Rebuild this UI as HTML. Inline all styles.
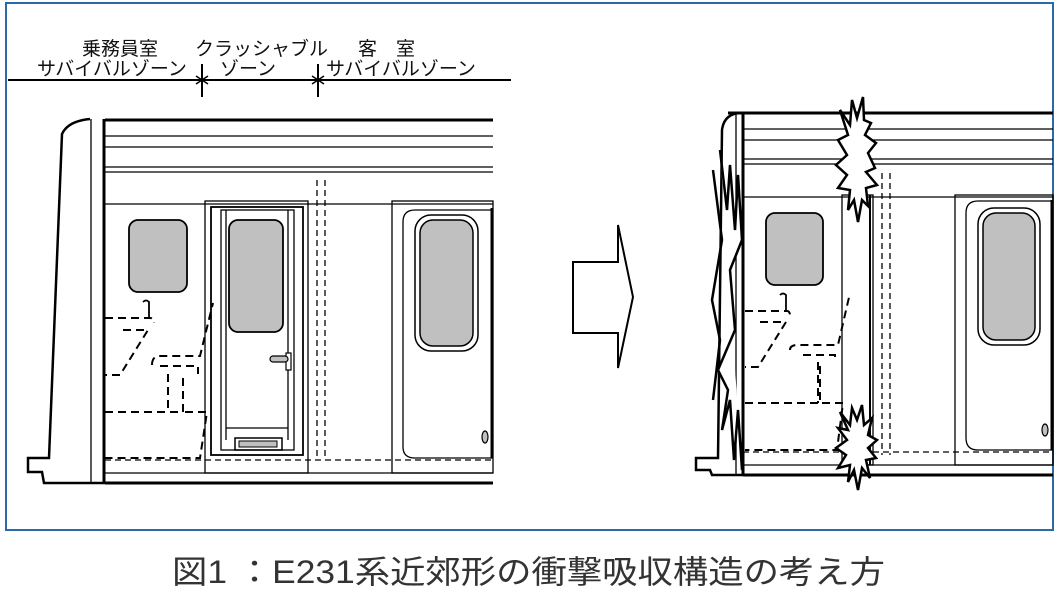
<!DOCTYPE html>
<html><head><meta charset="utf-8"><style>
html,body{margin:0;padding:0;background:#fff;width:1061px;height:605px;overflow:hidden}
svg{display:block}
</style></head><body>
<svg width="1061" height="605" viewBox="0 0 1061 605" xmlns="http://www.w3.org/2000/svg" font-family="'Liberation Sans','Noto Sans CJK JP',sans-serif">
<rect x="6" y="3" width="1047" height="527" fill="none" stroke="#2a6aa8" stroke-width="2"/>
<g font-size="19" fill="#111">
<text x="82" y="55">乗務員室</text>
<text x="37" y="75">サバイバルゾーン</text>
<text x="195" y="55">クラッシャブル</text>
<text x="220" y="75">ゾーン</text>
<text x="358" y="55">客</text><text x="396" y="55">室</text>
<text x="326" y="75">サバイバルゾーン</text>
</g>
<g stroke="#000" fill="none">
<line x1="8" y1="80" x2="511" y2="80" stroke-width="2"/>
<line x1="202" y1="64" x2="202" y2="97" stroke-width="2"/>
<line x1="318" y1="64" x2="318" y2="97" stroke-width="2"/>
<path d="M196 76 L208 84 M196 84 L208 76 M312 76 L324 84 M312 84 L324 76" stroke-width="1.5"/>
</g>
<g stroke="#000" fill="none">
<path d="M105 120 H493" stroke-width="3"/>
<path d="M105 136 H493 M105 147 H493 M105 167 H493 M105 172 H493 M105 204 H493 M105 473 H493" stroke-width="1.2"/>
<path d="M105 483 H493" stroke-width="3"/>
<path d="M90 119 Q68 121 62 134 L49 458 L28 458 L28 472 L42 472 L44 483 L105 483" stroke-width="2.5"/>
<line x1="91" y1="119" x2="91" y2="483" stroke-width="1.3"/>
<line x1="104" y1="119" x2="104" y2="483" stroke-width="3"/>
<rect x="129" y="220" width="58" height="72" rx="9" fill="#c0c0c0" stroke-width="1.8"/>
<rect x="205" y="201" width="103" height="272" stroke-width="1.3"/>
<rect x="211" y="207" width="92" height="248" stroke-width="1.8"/>
<rect x="221" y="210" width="73" height="240" stroke-width="1.3"/>
<line x1="226" y1="210" x2="226" y2="440" stroke-width="1.3"/>
<line x1="288" y1="210" x2="288" y2="440" stroke-width="1.3"/>
<line x1="226" y1="428" x2="288" y2="428" stroke-width="1.3"/>
<rect x="229" y="220" width="54" height="112" rx="9" fill="#c0c0c0" stroke-width="1.8"/>
<rect x="286" y="353" width="5" height="17" fill="#fff" stroke-width="1.2"/>
<rect x="270" y="356" width="18" height="6" rx="3" fill="#c0c0c0" stroke-width="1.2"/>
<rect x="235" y="438" width="47" height="12" stroke-width="1.5"/>
<rect x="239" y="441" width="38" height="6" fill="#c0c0c0" stroke-width="1"/>
<path d="M317 180 V460 M325 180 V460" stroke-width="1.3" stroke-dasharray="6,4"/>
<path d="M105 460 H493" stroke-width="1.3" stroke-dasharray="6,4"/>
<rect x="392" y="201" width="101" height="272" stroke-width="1.3"/>
<path d="M493 210 H415 Q403 210 403 222 V447 Q403 458 415 458 H493" stroke-width="1.3"/>
<line x1="492" y1="208" x2="492" y2="458" stroke-width="3"/>
<rect x="415" y="215" width="63" height="136" rx="16" fill="#fff" stroke-width="1.5"/>
<rect x="420" y="220" width="53" height="126" rx="13" fill="#c0c0c0" stroke-width="1.5"/>
<ellipse cx="485" cy="437" rx="3" ry="6" fill="#c0c0c0" stroke-width="1.2"/>
<g stroke-width="2" stroke-dasharray="8,5">
<path d="M105 318 H150 Q154 318 154 323"/>
<path d="M123 330 H148 L120 375 H105"/>
<path d="M105 412 H183 V375"/>
<path d="M152 365 Q152 356 160 356 H200 L213 303"/>
<path d="M160 366 H198 V374 M168 374 V412 M185 412 H207 L200 458 H105"/>
</g>
<path d="M143 302 Q146 299 149 302 V318" stroke-width="1.8"/>
</g>
<path d="M573 262 H618 V225 L633 297 L618 368 V333 H573 Z" fill="#fff" stroke="#000" stroke-width="2"/>
<g stroke="#000" fill="none">
<path d="M728 113 H1053" stroke-width="3"/>
<path d="M743 129 H1053 M743 140 H1053 M743 159 H1053 M743 164 H1053 M743 197 H1053 M743 465 H1053" stroke-width="1.2"/>
<path d="M743 475 H1053" stroke-width="3"/>
<path d="M740 113 Q724 114 722 130 L718 458 L696 458 L696 470 L710 470 L712 475 L743 475" stroke-width="2.5"/>
<line x1="736" y1="113" x2="736" y2="475" stroke-width="1.3"/>
<line x1="743" y1="113" x2="743" y2="475" stroke-width="3"/>
<path d="M720 150 L727 210 L730 165 L735 230 L738 175 L742 240 L730 270 L735 330 L718 370 L728 390 L722 430 L730 400 L734 460 L738 410 L742 470" stroke-width="2.5" fill="#fff"/>
<path d="M713 170 L722 240 L712 300 L720 340 L713 400" stroke-width="2.5"/>
<rect x="766" y="213" width="57" height="72" rx="9" fill="#c0c0c0" stroke-width="1.8"/>
<rect x="842" y="195" width="31" height="270" stroke-width="1.3"/>
<line x1="870" y1="195" x2="870" y2="465" stroke-width="2"/>
<path d="M882 173 V455 M890 173 V455" stroke-width="1.3" stroke-dasharray="6,4"/>
<path d="M743 452 H1053" stroke-width="1.3" stroke-dasharray="6,4"/>
<rect x="955" y="195" width="98" height="270" stroke-width="1.3"/>
<path d="M1053 201 H978 Q966 201 966 213 V438 Q966 450 978 450 H1053" stroke-width="1.3"/>
<line x1="1052" y1="200" x2="1052" y2="450" stroke-width="3"/>
<rect x="978" y="208" width="62" height="137" rx="16" fill="#fff" stroke-width="1.5"/>
<rect x="983" y="213" width="52" height="127" rx="13" fill="#c0c0c0" stroke-width="1.5"/>
<ellipse cx="1045" cy="430" rx="3" ry="6" fill="#c0c0c0" stroke-width="1.2"/>
<g stroke-width="2" stroke-dasharray="8,5">
<path d="M745 311 H787 Q790 311 790 316"/>
<path d="M760 322 H786 L758 367 H745"/>
<path d="M745 403 H820 V365"/>
<path d="M790 350 Q790 345 798 345 H838 L850 293"/>
<path d="M803 355 H835 V362 M818 362 V403 M822 403 H843 L837 450 H745"/>
</g>
<path d="M780 295 Q783 292 786 295 V311" stroke-width="1.8"/>
<path d="M840 110 L850 125 L852 100 L857 118 L863 97 L864 120 L871 123 L865 135 L876 143 L868 153 L875 168 L866 172 L877 185 L866 188 L868 206 L862 200 L858 222 L854 200 L848 210 L850 190 L838 188 L847 175 L836 165 L847 155 L838 140 L848 135 Z" fill="#fff" stroke-width="2.5"/>
<path d="M840 412 L850 425 L852 408 L857 420 L862 405 L864 425 L872 418 L868 435 L877 440 L868 448 L876 458 L866 460 L870 478 L862 468 L858 490 L854 470 L848 482 L850 465 L838 468 L846 455 L836 448 L847 440 L838 428 L848 430 Z" fill="#fff" stroke-width="2.5"/>
</g>
<text x="172" y="583" font-size="32" fill="#333" textLength="713" lengthAdjust="spacingAndGlyphs">図1 ：E231系近郊形の衝撃吸収構造の考え方</text>
</svg>
</body></html>
